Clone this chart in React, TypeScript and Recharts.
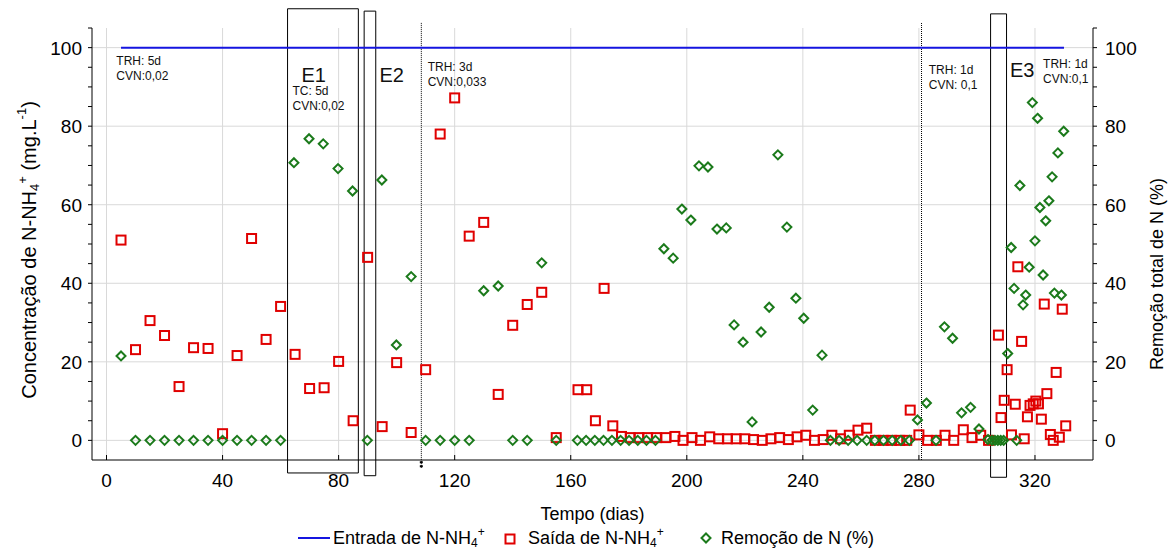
import React from 'react';
import {
  ComposedChart,
  Scatter,
  Line,
  XAxis,
  YAxis,
  CartesianGrid,
  ReferenceArea,
  ReferenceLine,
  ReferenceDot,
} from 'recharts';

const FONT = '"Liberation Sans", Arial, sans-serif';

// tick labels
const X_TICKS = [0, 40, 80, 120, 160, 200, 240, 280, 320];
const X_MINOR = [0, 10, 20, 30, 40, 50, 60, 70, 80, 90, 100, 110, 120, 130, 140, 150, 160, 170,
  180, 190, 200, 210, 220, 230, 240, 250, 260, 270, 280, 290, 300, 310, 320, 330, 340];
const Y_TICKS = [0, 20, 40, 60, 80, 100];
const Y_MINOR = [0, 5, 10, 15, 20, 25, 30, 35, 40, 45, 50, 55, 60, 65, 70, 75, 80, 85, 90, 95, 100, 105];

// Entrada de N-NH4+ (mg/L)
const entrada = [
  { x: 5, y: 100 },
  { x: 330, y: 100 },
];

// Saída de N-NH4+ (mg/L)
const saida = [
  { x: 5, y: 51 }, { x: 10, y: 23.1 }, { x: 15, y: 30.5 }, { x: 20, y: 26.7 }, { x: 25, y: 13.7 },
  { x: 30, y: 23.6 }, { x: 35, y: 23.4 }, { x: 40, y: 1.7 }, { x: 45, y: 21.6 }, { x: 50, y: 51.4 },
  { x: 55, y: 25.7 }, { x: 60, y: 34.1 }, { x: 65, y: 21.9 }, { x: 70, y: 13.2 }, { x: 75, y: 13.4 },
  { x: 80, y: 20.1 }, { x: 85, y: 5.0 }, { x: 90, y: 46.6 }, { x: 95, y: 3.5 }, { x: 100, y: 19.8 },
  { x: 105, y: 2.0 }, { x: 110, y: 18.0 }, { x: 115, y: 78.0 }, { x: 120, y: 87.2 }, { x: 125, y: 52.0 },
  { x: 130, y: 55.5 }, { x: 135, y: 11.7 }, { x: 140, y: 29.3 }, { x: 145, y: 34.6 }, { x: 150, y: 37.7 },
  { x: 155, y: 0.7 }, { x: 162.5, y: 12.9 }, { x: 165.5, y: 12.9 }, { x: 168.5, y: 5.0 }, { x: 171.5, y: 38.7 },
  { x: 174.5, y: 3.7 }, { x: 177.5, y: 1.0 }, { x: 180.5, y: 0.7 }, { x: 183.5, y: 0.7 }, { x: 186.5, y: 0.7 },
  { x: 189.5, y: 0.7 }, { x: 192.8, y: 0.7 }, { x: 195.9, y: 1.0 }, { x: 198.7, y: 0 }, { x: 201.8, y: 0.7 },
  { x: 204.7, y: 0 }, { x: 207.9, y: 0.9 }, { x: 211, y: 0.4 }, { x: 214, y: 0.4 }, { x: 217, y: 0.4 },
  { x: 220, y: 0.4 }, { x: 223, y: 0.2 }, { x: 226, y: 0 }, { x: 229, y: 0.4 }, { x: 232, y: 0.7 },
  { x: 235, y: 0.2 }, { x: 238, y: 0.9 }, { x: 241, y: 1.3 }, { x: 244, y: 0 }, { x: 247, y: 0.2 },
  { x: 250, y: 1.3 }, { x: 253, y: 0.4 }, { x: 256, y: 1.3 }, { x: 259, y: 2.6 }, { x: 262, y: 3.1 },
  { x: 265, y: 0 }, { x: 267.7, y: 0 }, { x: 270.6, y: 0 }, { x: 273.4, y: 0 }, { x: 275.8, y: 0 },
  { x: 277, y: 7.7 }, { x: 280, y: 1.4 }, { x: 283, y: 0 }, { x: 286, y: 0 }, { x: 289, y: 1.3 },
  { x: 292, y: 0 }, { x: 295.3, y: 2.7 }, { x: 298.3, y: 0.7 }, { x: 301.3, y: 1.3 }, { x: 304, y: 0 },
  { x: 307.4, y: 26.8 }, { x: 308.3, y: 5.8 }, { x: 309.4, y: 10.2 }, { x: 310.4, y: 18.0 }, { x: 311.9, y: 1.4 },
  { x: 313.2, y: 9.2 }, { x: 314.1, y: 44.2 }, { x: 315.4, y: 25.2 }, { x: 316.3, y: 0.4 }, { x: 317.4, y: 6.0 },
  { x: 318.3, y: 8.9 }, { x: 319.4, y: 9.3 }, { x: 320.3, y: 10.0 }, { x: 321.2, y: 9.3 }, { x: 322.2, y: 5.4 },
  { x: 323.2, y: 34.7 }, { x: 324.1, y: 11.9 }, { x: 325.3, y: 1.5 }, { x: 326.3, y: 0 }, { x: 327.3, y: 17.3 },
  { x: 328.4, y: 0.8 }, { x: 329.4, y: 33.4 }, { x: 330.6, y: 3.7 },
];

// Remoção de N (%)
const remocao = [
  { x: 5, y: 21.5 }, { x: 10, y: 0 }, { x: 15, y: 0 }, { x: 20, y: 0 }, { x: 25, y: 0 },
  { x: 30, y: 0 }, { x: 35, y: 0 }, { x: 40, y: 0 }, { x: 45, y: 0 }, { x: 50, y: 0 },
  { x: 55, y: 0 }, { x: 60, y: 0 }, { x: 64.6, y: 70.7 }, { x: 69.8, y: 76.8 }, { x: 74.7, y: 75.5 },
  { x: 79.8, y: 69.2 }, { x: 84.8, y: 63.5 }, { x: 89.9, y: 0 }, { x: 94.9, y: 66.3 }, { x: 99.9, y: 24.3 },
  { x: 105, y: 41.7 }, { x: 110, y: 0 }, { x: 115, y: 0 }, { x: 120, y: 0 }, { x: 125, y: 0 },
  { x: 130, y: 38.1 }, { x: 135, y: 39.3 }, { x: 140, y: 0 }, { x: 145, y: 0 }, { x: 150, y: 45.2 },
  { x: 155, y: 0 }, { x: 162.3, y: 0 }, { x: 165.3, y: 0 }, { x: 168.3, y: 0 }, { x: 171.3, y: 0 },
  { x: 174.2, y: 0 }, { x: 177.2, y: 0 }, { x: 180.1, y: 0 }, { x: 183.1, y: 0 }, { x: 186.1, y: 0 },
  { x: 189.2, y: 0 }, { x: 192.1, y: 48.8 }, { x: 195.3, y: 46.4 }, { x: 198.3, y: 58.9 }, { x: 201.4, y: 56.1 },
  { x: 204.2, y: 69.9 }, { x: 207.3, y: 69.6 }, { x: 210.4, y: 53.8 }, { x: 213.6, y: 54.1 }, { x: 216.3, y: 29.4 },
  { x: 219.4, y: 25.0 }, { x: 222.5, y: 4.7 }, { x: 225.6, y: 27.6 }, { x: 228.4, y: 33.9 }, { x: 231.4, y: 72.7 },
  { x: 234.5, y: 54.3 }, { x: 237.6, y: 36.2 }, { x: 240.3, y: 31.1 }, { x: 243.4, y: 7.7 }, { x: 246.6, y: 21.7 },
  { x: 249.5, y: 0 }, { x: 252.5, y: 0 }, { x: 255.6, y: 0 }, { x: 258.7, y: 0 }, { x: 262, y: 0 },
  { x: 264.8, y: 0 }, { x: 267.8, y: 0 }, { x: 270.8, y: 0 }, { x: 273.8, y: 0 }, { x: 276.7, y: 0 },
  { x: 279.5, y: 5.2 }, { x: 282.6, y: 9.5 }, { x: 285.9, y: 0 }, { x: 288.8, y: 28.9 }, { x: 291.6, y: 26.0 },
  { x: 294.7, y: 7.0 }, { x: 297.8, y: 8.4 }, { x: 300.7, y: 2.9 }, { x: 303.8, y: 0.2 }, { x: 305.2, y: 0 },
  { x: 306.2, y: 0 }, { x: 307.2, y: 0 }, { x: 308.2, y: 0 }, { x: 309.2, y: 0 }, { x: 310.6, y: 22.1 },
  { x: 311.8, y: 49.1 }, { x: 312.8, y: 38.7 }, { x: 313.7, y: 0 }, { x: 314.8, y: 64.9 }, { x: 315.9, y: 34.5 },
  { x: 316.8, y: 37.0 }, { x: 318, y: 44.1 }, { x: 319.1, y: 86.0 }, { x: 320, y: 50.8 }, { x: 320.9, y: 82.0 },
  { x: 321.7, y: 59.3 }, { x: 322.8, y: 42.1 }, { x: 323.7, y: 55.9 }, { x: 324.8, y: 61.0 }, { x: 325.9, y: 67.1 },
  { x: 326.7, y: 37.5 }, { x: 327.9, y: 73.2 }, { x: 329.1, y: 37.0 }, { x: 329.9, y: 78.7 },
];

// experiment phases: boxes E1, E2, E3 and change lines
const phaseBoxes = [
  { x1: 62.4, x2: 86.8, y1: -8.3, y2: 109.9 },
  { x1: 88.8, x2: 92.8, y1: -9.0, y2: 109.3 },
  { x1: 304.7, x2: 310.2, y1: -9.4, y2: 108.6 },
];
const phaseLines = [
  { x: 108.5, y1: -7, y2: 106.3 },
  { x: 280.9, y1: -5, y2: 106.3 },
];
const notes = [
  { x: 3.4, y: 95.7, lines: ['TRH: 5d', 'CVN:0,02'], size: 12 },
  { x: 64.1, y: 88.0, lines: ['TC: 5d', 'CVN:0,02'], size: 12 },
  { x: 110.7, y: 94.1, lines: ['TRH: 3d', 'CVN:0,033'], size: 12 },
  { x: 283.4, y: 93.4, lines: ['TRH: 1d', 'CVN: 0,1'], size: 12 },
  { x: 322.8, y: 94.9, lines: ['TRH: 1d', 'CVN:0,1'], size: 12 },
  { x: 67.2, y: 91.3, lines: ['E1'], size: 20 },
  { x: 94.1, y: 91.3, lines: ['E2'], size: 20 },
  { x: 311.4, y: 92.6, lines: ['E3'], size: 20 },
];

const RED = '#e00000';
const GREEN = '#1b7a1b';
const BLUE = '#1515e0';

const Square = (props: any) => {
  const { cx, cy } = props;
  if (cx == null || cy == null) return null;
  return <rect x={cx - 4.5} y={cy - 4.5} width={9} height={9} fill="none" stroke={RED} strokeWidth={2} />;
};

const Diamond = (props: any) => {
  const { cx, cy } = props;
  if (cx == null || cy == null) return null;
  const r = 4.5;
  return (
    <path
      d={`M${cx},${cy - r}L${cx + r},${cy}L${cx},${cy + r}L${cx - r},${cy}Z`}
      fill="none"
      stroke={GREEN}
      strokeWidth={2}
    />
  );
};

const BottomTick = (props: any) => {
  const { x, y, payload } = props;
  return (
    <g>
      <line x1={x} x2={x} y1={y} y2={y - 5} stroke="#000" />
      <text x={x} y={y + 27} textAnchor="middle" fontSize={19} fontFamily={FONT} fill="#000">
        {payload.value}
      </text>
    </g>
  );
};

const TopTick = (props: any) => {
  const { x, y } = props;
  return <line x1={x} x2={x} y1={y} y2={y + 4} stroke="#000" />;
};

const LeftTick = (props: any) => {
  const { x, y, payload } = props;
  const major = payload.value % 20 === 0 && payload.value <= 100;
  return (
    <g>
      <line x1={x - 4} x2={x} y1={y} y2={y} stroke="#000" />
      {major && (
        <text x={x - 10} y={y + 7} textAnchor="end" fontSize={19} fontFamily={FONT} fill="#000">
          {payload.value}
        </text>
      )}
    </g>
  );
};

const RightTick = (props: any) => {
  const { x, y, payload } = props;
  const major = payload.value % 20 === 0 && payload.value <= 100;
  return (
    <g>
      <line x1={x} x2={x + 4} y1={y} y2={y} stroke="#000" />
      {major && (
        <text x={x + 12} y={y + 7} textAnchor="start" fontSize={19} fontFamily={FONT} fill="#000">
          {payload.value}
        </text>
      )}
    </g>
  );
};

const LeftTitle = (props: any) => {
  const vb = props.viewBox;
  const cx = 29;
  const cy = vb.y + vb.height / 2 + 6;
  return (
    <text
      transform={`translate(${cx},${cy}) rotate(-90)`}
      textAnchor="middle"
      dominantBaseline="central"
      fontSize={20}
      fontFamily={FONT}
      fill="#000"
    >
      Concentração de N-NH
      <tspan fontSize={13} dy={5}>4</tspan>
      <tspan fontSize={13} dy={-12}>+</tspan>
      <tspan dy={7}> (mg.L</tspan>
      <tspan fontSize={13} dy={-8}>-1</tspan>
      <tspan dy={8}>)</tspan>
    </text>
  );
};

const RightTitle = (props: any) => {
  const vb = props.viewBox;
  const cx = 1157;
  const cy = vb.y + vb.height / 2 + 30;
  return (
    <text
      transform={`translate(${cx},${cy}) rotate(-90)`}
      textAnchor="middle"
      dominantBaseline="central"
      fontSize={18}
      fontFamily={FONT}
      fill="#000"
    >
      Remoção total de N (%)
    </text>
  );
};

const BottomTitle = (props: any) => {
  const vb = props.viewBox;
  const cx = vb.x + vb.width / 2;
  const base = 544;
  const t = { fontSize: 18, fontFamily: FONT, fill: '#000' };
  return (
    <g>
      <text x={cx} y={520} textAnchor="middle" {...t}>Tempo (dias)</text>
      {/* legend */}
      <line x1={298} x2={330} y1={538} y2={538} stroke={BLUE} strokeWidth={2} />
      <text x={333} y={base} {...t}>
        Entrada de N-NH<tspan fontSize={12} dy={3}>4</tspan><tspan fontSize={12} dy={-11}>+</tspan>
      </text>
      <Square cx={510} cy={539} />
      <text x={528} y={base} {...t}>
        Saída de N-NH<tspan fontSize={12} dy={3}>4</tspan><tspan fontSize={12} dy={-11}>+</tspan>
      </text>
      <Diamond cx={706} cy={538} />
      <text x={721} y={base} {...t}>Remoção de N (%)</text>
    </g>
  );
};

const noteLabel = (lines: string[], size: number) => (props: any) => {
  const vb = props.viewBox || {};
  const x = vb.x ?? 0;
  const y = vb.y ?? 0;
  return (
    <text x={x} y={y} fontSize={size} fontFamily={FONT} fill="#111">
      {lines.map((l, i) => (
        <tspan key={i} x={x} dy={i === 0 ? 0 : 15}>{l}</tspan>
      ))}
    </text>
  );
};

export default function App() {
  return (
    <div style={{ position: 'absolute', left: 0, top: 0, background: '#fff' }}>
      <ComposedChart width={1173} height={551} margin={{ top: 28, right: 0, bottom: 0, left: 0 }}>
        <CartesianGrid
          xAxisId="bottom"
          yAxisId="left"
          stroke="#d9d9d9"
          horizontalValues={Y_TICKS}
          verticalValues={X_TICKS}
        />
        <XAxis
          xAxisId="bottom"
          dataKey="x"
          type="number"
          domain={[-5, 340]}
          ticks={X_TICKS}
          allowDataOverflow
          height={91}
          tickSize={0}
          tickMargin={0}
          tick={<BottomTick />}
          axisLine={{ stroke: '#000' }}
          interval={0}
          label={<BottomTitle />}
        />
        <XAxis
          xAxisId="top"
          dataKey="x"
          type="number"
          orientation="top"
          domain={[-5, 340]}
          ticks={X_MINOR}
          allowDataOverflow
          height={0}
          tickSize={0}
          tickMargin={0}
          tick={<TopTick />}
          axisLine={{ stroke: '#000' }}
          interval={0}
        />
        <YAxis
          yAxisId="left"
          dataKey="y"
          type="number"
          domain={[-5, 105]}
          ticks={Y_MINOR}
          allowDataOverflow
          width={92}
          tickSize={0}
          tickMargin={0}
          tick={<LeftTick />}
          axisLine={{ stroke: '#000' }}
          interval={0}
          label={<LeftTitle />}
        />
        <YAxis
          yAxisId="right"
          dataKey="y"
          type="number"
          orientation="right"
          domain={[-5, 105]}
          ticks={Y_MINOR}
          allowDataOverflow
          width={80}
          tickSize={0}
          tickMargin={0}
          tick={<RightTick />}
          axisLine={{ stroke: '#000' }}
          interval={0}
          label={<RightTitle />}
        />

        {phaseBoxes.map((b, i) => (
          <ReferenceArea
            key={`box-${i}`}
            xAxisId="bottom"
            yAxisId="left"
            x1={b.x1}
            x2={b.x2}
            y1={b.y1}
            y2={b.y2}
            ifOverflow="visible"
            fill="none"
            fillOpacity={0}
            stroke="#000"
            strokeWidth={1}
          />
        ))}
        {phaseLines.map((l, i) => (
          <ReferenceLine
            key={`line-${i}`}
            xAxisId="bottom"
            yAxisId="left"
            segment={[{ x: l.x, y: l.y1 }, { x: l.x, y: l.y2 }]}
            ifOverflow="visible"
            stroke="#000"
            strokeDasharray="1 1"
          />
        ))}
        <ReferenceLine
          xAxisId="bottom"
          yAxisId="left"
          segment={[{ x: 108.5, y: -5.3 }, { x: 108.5, y: -7.2 }]}
          ifOverflow="visible"
          stroke="#000"
          strokeWidth={3}
          strokeDasharray="2 2"
        />

        <Line
          xAxisId="bottom"
          yAxisId="left"
          data={entrada}
          dataKey="y"
          stroke={BLUE}
          strokeWidth={2}
          dot={false}
          isAnimationActive={false}
        />
        <Scatter
          xAxisId="bottom"
          yAxisId="left"
          data={saida}
          dataKey="y"
          shape={Square}
          isAnimationActive={false}
        />
        <Scatter
          xAxisId="bottom"
          yAxisId="right"
          data={remocao}
          dataKey="y"
          shape={Diamond}
          isAnimationActive={false}
        />

        {notes.map((n, i) => (
          <ReferenceDot
            key={`note-${i}`}
            xAxisId="bottom"
            yAxisId="left"
            x={n.x}
            y={n.y}
            r={0}
            fill="none"
            stroke="none"
            ifOverflow="visible"
            label={noteLabel(n.lines, n.size)}
          />
        ))}
      </ComposedChart>
    </div>
  );
}
